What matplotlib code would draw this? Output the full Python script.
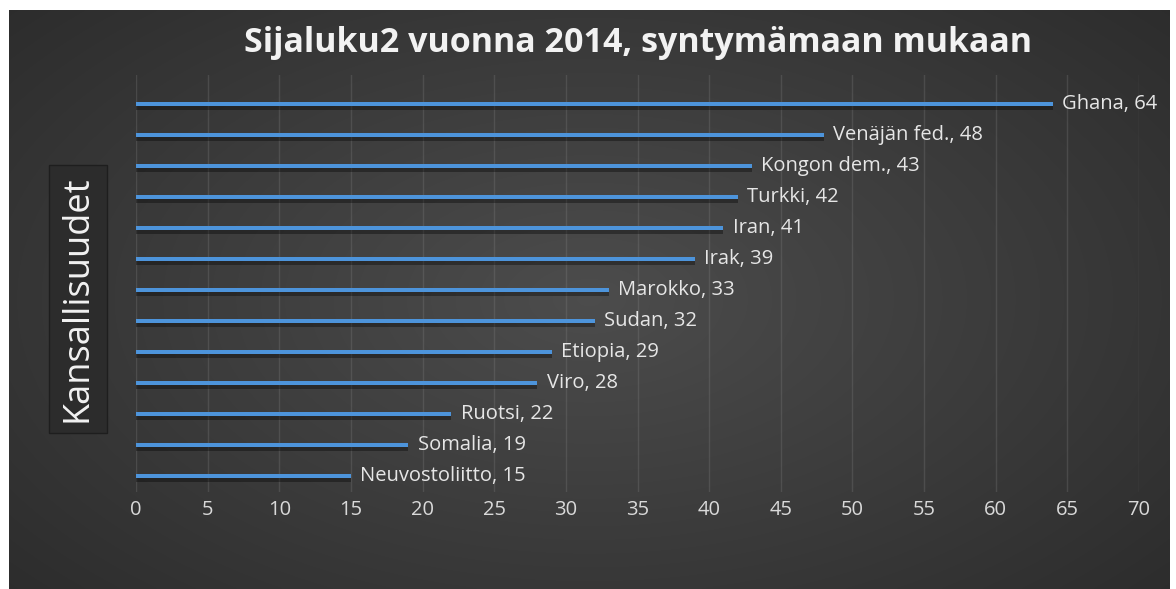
import numpy as np
import matplotlib
matplotlib.use('Agg')
import matplotlib.pyplot as plt

# Data (ordered bottom -> top)
maat = ['Neuvostoliitto', 'Somalia', 'Ruotsi', 'Viro', 'Etiopia', 'Sudan', 'Marokko',
        'Irak', 'Iran', 'Turkki', 'Kongon dem.', 'Venäjän fed.', 'Ghana']
arvot = [15, 19, 22, 28, 29, 32, 33, 39, 41, 42, 43, 48, 64]
xticks = list(range(0, 75, 5))

plt.rcParams['font.family'] = ['Open Sans', 'DejaVu Sans']

W, H = 1176, 589
fig = plt.figure(figsize=(W / 100, H / 100), dpi=100)
fig.patch.set_facecolor('white')

# Taustan liukuväri
bg = fig.add_axes([9 / W, 0, (1170 - 9) / W, (H - 10) / H])
yy, xx = np.mgrid[0:1:300j, 0:1:600j]
r = np.sqrt(((xx - 0.5) / 0.75) ** 2 + ((yy - 0.5) / 0.85) ** 2)
g = 0.30 - 0.14 * r
g = np.clip(g, 0.15, 0.3)
bg.imshow(np.dstack([g, g, g]), aspect='auto', extent=[0, 1, 0, 1], interpolation='bilinear')
bg.axis('off')

# Pääkuvaaja
y0, y1 = 75, 491.5
ax = fig.add_axes([136 / W, 1 - y1 / H, (1139 - 136) / W, (y1 - y0) / H])
ax.set_facecolor('none')
pos = np.arange(len(maat))
ax.barh(pos - 0.1, arvot, height=0.16, color='black', alpha=0.35, zorder=2)
ax.barh(pos, arvot, height=0.15, color='#4d94db', zorder=3)
for p, nimi, v in zip(pos, maat, arvot):
    ax.text(v + 0.65, p, f'{nimi}, {v}', color='#e6e6e6', fontsize=14.5,
            va='center', ha='left', zorder=4)

ax.set_xlim(0, 70)
ax.set_ylim(-0.5, 12.94)
ax.set_xticks(xticks)
ax.set_xticklabels([str(t) for t in xticks], color='#d9d9d9', fontsize=14.5)
ax.tick_params(axis='x', length=0, pad=6)
ax.set_yticks([])
for s in ax.spines.values():
    s.set_visible(False)
ax.grid(axis='x', color='#8a8a8a', alpha=0.25, linewidth=1)
ax.set_axisbelow(True)

fig.text(638 / W, 1 - 43 / H, 'Sijaluku2 vuonna 2014, syntymämaan mukaan',
         color='#f2f2f2', fontsize=24.5, fontweight='bold', ha='center', va='center')

fig.text(78 / W, 1 - 299 / H, 'Kansallisuudet', rotation=90, color='#f2f2f2',
         fontsize=26, ha='center', va='center',
         bbox=dict(boxstyle='square,pad=0.3', facecolor='#2c2c2c', edgecolor='#1e1e1e'))

fig.savefig('out.png', dpi=100)
